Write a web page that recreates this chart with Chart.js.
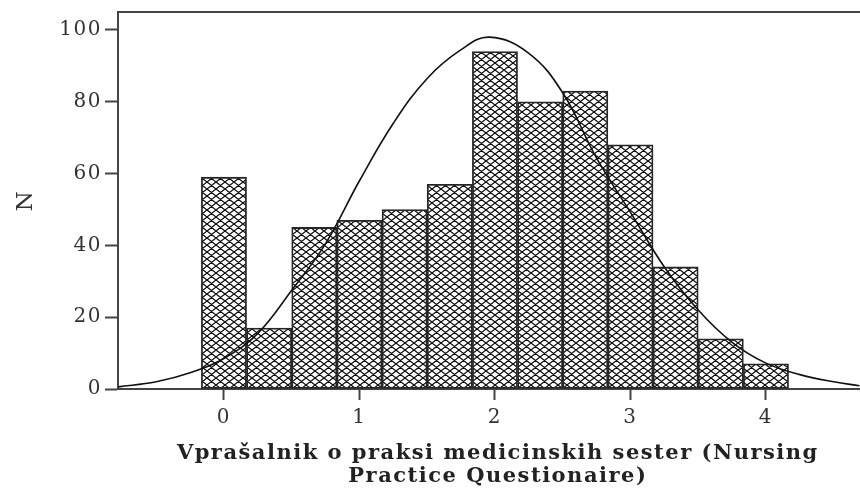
<!DOCTYPE html>
<html>
<head>
<meta charset="utf-8">
<script src="https://cdn.jsdelivr.net/npm/chart.js@4/dist/chart.umd.min.js"></script>
<style>
  html, body { margin: 0; padding: 0; background: #fff; }
  canvas { display: block; }
</style>
</head>
<body>
<canvas id="hist" width="860" height="488"></canvas>
<script>
// histogram bins (centres) and counts
const binCentres = [0, 1/3, 2/3, 1, 4/3, 5/3, 2, 7/3, 8/3, 3, 10/3, 11/3, 4];
const counts = [59, 17, 45, 47, 50, 57, 94, 80, 83, 68, 34, 14, 7];

// normal curve
const curveX = [-0.78, -0.5, -0.25, 0, 0.25, 0.5, 0.75, 1, 1.25, 1.5, 1.75, 1.96, 2.25, 2.5, 2.75, 3, 3.25, 3.5, 3.75, 4, 4.25, 4.5, 4.69];
const curveY = [0.6, 2.0, 4.5, 8.5, 15.5, 27.5, 40.5, 58, 74, 86.5, 94.5, 98, 93.5, 82.5, 64.3, 49.2, 34, 22, 13, 7.2, 4, 2, 0.9];

const xTicks = [0, 1, 2, 3, 4];
const yTicks = [0, 20, 40, 60, 80, 100];

const xTitle = ['  Vprašalnik o praksi medicinskih sester (Nursing', '  Practice Questionaire)'];
const yTitle = 'N';

function crossHatch() {
  const w = 9, h = 7;
  const c = document.createElement('canvas');
  c.width = w; c.height = h;
  const g = c.getContext('2d');
  g.fillStyle = '#fff';
  g.fillRect(0, 0, w, h);
  g.strokeStyle = '#0a0a0a';
  g.lineWidth = 1.2;
  g.beginPath();
  for (let k = -2; k <= 2; k++) {
    g.moveTo(k * w - w, -h); g.lineTo(k * w + 2 * w, 2 * h);
    g.moveTo(k * w - w, 2 * h); g.lineTo(k * w + 2 * w, -h);
  }
  g.stroke();
  return g.createPattern(c, 'repeat');
}

const ctx = document.getElementById('hist').getContext('2d');

// the picture's text is set wide, so space the letters a little
const wideText = {
  id: 'wideText',
  beforeDraw(chart) { chart.ctx.letterSpacing = '1.5px'; }
};

const topFrame = {
  id: 'topFrame',
  afterDraw(chart) {
    const a = chart.chartArea, g = chart.ctx;
    g.save();
    g.strokeStyle = '#444';
    g.lineWidth = 2;
    g.beginPath();
    g.moveTo(a.left - 1, a.top);
    g.lineTo(a.right, a.top);
    g.stroke();
    g.restore();
  }
};

new Chart(ctx, {
  type: 'bar',
  data: {
    datasets: [
      {
        type: 'line',
        data: curveX.map((x, i) => ({ x: x, y: curveY[i] })),
        borderColor: '#111',
        borderWidth: 1.6,
        pointRadius: 0,
        tension: 0.4,
        fill: false,
        order: 0
      },
      {
        type: 'bar',
        data: binCentres.map((x, i) => ({ x: x, y: counts[i] })),
        backgroundColor: crossHatch(),
        borderColor: '#262626',
        borderWidth: 1.8,
        borderSkipped: false,
        barPercentage: 1,
        categoryPercentage: 1,
        grouped: false,
        order: 1
      }
    ]
  },
  options: {
    responsive: false,
    devicePixelRatio: 1,
    animation: false,
    layout: { padding: { top: 3, left: 0, right: 0, bottom: 0 } },
    plugins: { legend: { display: false }, tooltip: { enabled: false } },
    scales: {
      x: {
        type: 'linear',
        offset: false,
        min: -0.782,
        max: 4.694,
        afterBuildTicks: s => { s.ticks = xTicks.map(v => ({ value: v })); },
        afterFit: s => { s.height = 99; },
        grid: { display: true, drawOnChartArea: false, offset: false, tickLength: 11, tickColor: '#444', tickWidth: 2 },
        border: { display: true, color: '#444', width: 2 },
        ticks: { font: { family: 'DejaVu Serif', size: 20 }, color: '#333', padding: 6, maxRotation: 0 },
        title: {
          display: true,
          text: xTitle,
          font: { family: 'DejaVu Serif', size: 21, weight: 'bold', lineHeight: 1.08 },
          color: '#222',
          padding: { top: 7, bottom: 0 }
        }
      },
      y: {
        min: 0,
        max: 105,
        afterBuildTicks: s => { s.ticks = yTicks.map(v => ({ value: v })); },
        afterFit: s => { s.width = 118; },
        grid: { display: true, drawOnChartArea: false, tickLength: 13, tickColor: '#444', tickWidth: 2 },
        border: { display: true, color: '#444', width: 2 },
        ticks: { font: { family: 'DejaVu Serif', size: 20, lineHeight: 0.9 }, color: '#333', padding: 3 },
        title: {
          display: true,
          text: yTitle,
          font: { family: 'DejaVu Serif', size: 23 },
          color: '#333',
          padding: { top: 12, bottom: 0 }
        }
      }
    }
  },
  plugins: [wideText, topFrame]
});
</script>
</body>
</html>
